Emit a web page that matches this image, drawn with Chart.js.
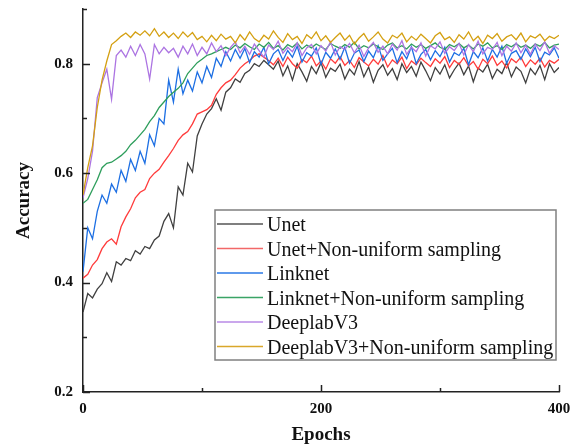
<!DOCTYPE html>
<html>
<head>
<meta charset="utf-8">
<script src="https://cdn.jsdelivr.net/npm/chart.js@4.4.1/dist/chart.umd.min.js"></script>
<style>
  html, body { margin: 0; padding: 0; background: #fff; }
  #wrap { width: 571px; height: 447px; position: relative; }
</style>
</head>
<body>
<div id="wrap"><canvas id="chart" width="571" height="447"></canvas></div>
<script>
// epochs sampled every 4
var epochs = Array.from({ length: 101 }, function(_, i) { return i * 4; });

var unet = [
	0.346,0.380,0.372,0.388,0.398,0.418,0.402,0.438,0.432,0.444,
	0.440,0.458,0.452,0.466,0.462,0.478,0.485,0.512,0.526,0.500,
	0.575,0.560,0.618,0.602,0.668,0.690,0.708,0.718,0.736,0.715,
	0.748,0.756,0.772,0.766,0.782,0.788,0.800,0.795,0.806,0.798,
	0.790,0.805,0.778,0.796,0.770,0.800,0.785,0.768,0.795,0.782,
	0.802,0.775,0.792,0.786,0.799,0.772,0.790,0.780,0.804,0.776,
	0.794,0.766,0.788,0.798,0.779,0.791,0.771,0.800,0.784,0.795,
	0.777,0.803,0.787,0.769,0.793,0.781,0.798,0.774,0.789,0.801,
	0.780,0.796,0.767,0.792,0.785,0.799,0.773,0.790,0.782,0.802,
	0.776,0.794,0.786,0.765,0.791,0.780,0.797,0.771,0.800,0.784,
	0.793
];

var unetNU = [
	0.408,0.415,0.432,0.442,0.462,0.474,0.480,0.470,0.502,0.520,
	0.535,0.555,0.565,0.570,0.590,0.600,0.607,0.620,0.632,0.645,
	0.660,0.670,0.676,0.690,0.708,0.712,0.716,0.724,0.744,0.756,
	0.765,0.770,0.780,0.792,0.800,0.806,0.814,0.818,0.812,
	0.806,0.798,0.810,0.795,0.812,0.800,0.792,0.808,0.802,0.814,
	0.796,0.805,0.790,0.809,0.801,0.813,0.797,0.806,0.793,0.811,
	0.803,0.796,0.808,0.799,0.815,0.794,0.807,0.800,0.812,0.791,
	0.805,0.798,0.810,0.802,0.795,0.809,0.801,0.813,0.793,0.806,
	0.799,0.811,0.796,0.804,0.790,0.808,0.800,0.814,0.797,0.805,
	0.792,0.809,0.802,0.812,0.795,0.807,0.799,0.810,0.794,0.806,
	0.801,0.808
];

var linknet = [
	0.420,0.500,0.480,0.530,0.560,0.545,0.580,0.565,0.605,0.585,
	0.625,0.605,0.640,0.618,0.670,0.650,0.700,0.690,0.770,0.730,
	0.790,0.745,0.770,0.750,0.785,0.765,0.795,0.775,0.810,0.795,
	0.822,0.805,0.826,
	0.810,0.828,0.802,0.822,0.812,0.830,0.800,0.818,0.826,0.806,
	0.824,0.812,0.832,0.803,0.820,0.814,0.829,0.799,0.821,0.810,
	0.827,0.808,0.830,0.801,0.819,0.825,0.804,0.823,0.811,0.833,
	0.806,0.818,0.828,0.802,0.822,0.809,0.831,0.800,0.817,0.826,
	0.807,0.824,0.813,0.830,0.803,0.820,0.815,0.828,0.798,0.822,
	0.811,0.829,0.805,0.826,0.812,0.832,0.801,0.819,0.824,0.808,
	0.827,0.813,0.830,0.804,0.821,0.816,0.829,0.810
];

var linknetNU = [
	0.545,0.552,0.570,0.588,0.610,0.618,0.620,0.626,0.632,0.640,
	0.652,0.660,0.670,0.680,0.694,0.705,0.720,0.730,0.740,0.748,
	0.755,0.765,0.782,0.792,0.802,0.808,0.815,0.818,0.822,0.826,
	0.830,
	0.826,0.834,0.829,0.837,0.831,0.826,0.836,0.830,0.839,0.828,
	0.833,0.825,0.835,0.830,0.838,0.827,0.834,0.829,0.836,0.831,
	0.826,0.837,0.832,0.828,0.835,0.830,0.839,0.827,0.833,0.829,
	0.836,0.831,0.826,0.834,0.838,0.829,0.833,0.827,0.836,0.830,
	0.835,0.828,0.833,0.838,0.830,0.826,0.835,0.831,0.837,0.829,
	0.834,0.827,0.836,0.832,0.838,0.829,0.833,0.826,0.835,0.831,
	0.837,0.830,0.834,0.828,0.836,0.832,0.839,0.829,0.834,0.836
];

var deeplab = [
	0.555,0.590,0.640,0.738,0.765,0.790,0.735,0.815,0.825,0.812,
	0.832,0.815,0.835,0.818,0.772,0.835,0.818,0.830,0.820,0.828,
	0.812,0.832,0.818,0.836,0.815,0.830,
	0.818,0.838,0.822,0.833,0.815,0.830,0.840,0.820,0.832,0.817,
	0.836,0.824,0.812,0.834,0.826,0.841,0.819,0.830,0.822,0.838,
	0.815,0.829,0.835,0.818,0.833,0.823,0.840,0.816,0.831,0.826,
	0.837,0.820,0.834,0.813,0.829,0.839,0.821,0.832,0.818,0.836,
	0.825,0.842,0.817,0.830,0.822,0.838,0.814,0.833,0.827,0.840,
	0.819,0.831,0.824,0.837,0.816,0.835,0.822,0.841,0.818,0.830,
	0.826,0.839,0.815,0.832,0.823,0.838,0.820,0.834,0.817,0.836,
	0.824,0.840,0.819,0.833,0.826
];

var deeplabNU = [
	0.560,0.610,0.650,0.720,0.770,0.805,0.835,0.842,0.850,0.856,
	0.848,0.858,0.852,0.860,0.851,0.864,0.850,0.858,0.848,0.856,
	0.846,0.858,0.849,0.857,0.844,0.850,0.840,0.852,0.842,0.854,
	0.845,
	0.850,0.838,0.853,0.843,0.858,0.846,0.840,0.852,0.845,0.860,
	0.848,0.839,0.855,0.844,0.850,0.837,0.853,0.846,0.858,0.842,
	0.851,0.839,0.848,0.856,0.843,0.852,0.836,0.847,0.855,0.841,
	0.849,0.858,0.845,0.838,0.852,0.847,0.856,0.840,0.850,0.843,
	0.854,0.846,0.838,0.851,0.857,0.844,0.849,0.839,0.853,0.845,
	0.858,0.842,0.850,0.837,0.852,0.846,0.855,0.841,0.849,0.853,
	0.844,0.856,0.840,0.851,0.847,0.854,0.842,0.850,0.846,0.852
];

var seriesNames = [
	'Unet',
	'Unet+Non-uniform sampling',
	'Linknet',
	'Linknet+Non-uniform sampling',
	'DeeplabV3',
	'DeeplabV3+Non-uniform sampling'
];
var seriesValues = [unet, unetNU, linknet, linknetNU, deeplab, deeplabNU];
var seriesColors = ['#404040', '#ff3b3b', '#1d6fe3', '#2e9e5c', '#ac74e2', '#d4a012'];
var legendColors = ['#555555', '#f26868', '#2a78e6', '#3aa466', '#b88ae6', '#d9a72a'];

var yTicks = [0.2, 0.4, 0.6, 0.8];
var xTicks = [0, 200, 400];

var datasets = seriesValues.map(function(vals, k) {
	return {
		label: seriesNames[k],
		data: vals.map(function(v, i) { return { x: epochs[i], y: v }; }),
		borderColor: seriesColors[k],
		borderWidth: 1.3,
		pointRadius: 0,
		tension: 0,
		fill: false,
		order: seriesValues.length - k
	};
});

// ticks pointing inward, major and minor
var innerTicks = {
	id: 'innerTicks',
	afterDraw: function(chart) {
		var ctx = chart.ctx;
		var xs = chart.scales.x, ys = chart.scales.y;
		var a = chart.chartArea;
		ctx.save();
		ctx.strokeStyle = '#222';
		ctx.lineWidth = 1.5;
		ctx.beginPath();
		for (var v = 2; v <= 9; v++) {
			var py = Math.round(ys.getPixelForValue(v / 10)) + 0.5;
			var len = (v % 2 === 0) ? 7 : 4;
			ctx.moveTo(a.left, py);
			ctx.lineTo(a.left + len, py);
		}
		for (var e = 0; e <= 400; e += 100) {
			var px = Math.round(xs.getPixelForValue(e)) + 0.5;
			var l2 = (e % 200 === 0) ? 7 : 4;
			ctx.moveTo(px, a.bottom);
			ctx.lineTo(px, a.bottom - l2);
		}
		ctx.stroke();
		ctx.restore();
	}
};

// framed legend inside plot
var boxLegend = {
	id: 'boxLegend',
	afterDraw: function(chart) {
		var ctx = chart.ctx;
		var bx = 215, by = 210, bw = 341, bh = 150;
		ctx.save();
		ctx.fillStyle = '#fff';
		ctx.fillRect(bx, by, bw, bh);
		ctx.strokeStyle = '#808080';
		ctx.lineWidth = 1.5;
		ctx.strokeRect(bx, by, bw, bh);
		ctx.font = '20px "Liberation Serif", "Times New Roman", serif';
		ctx.textBaseline = 'alphabetic';
		chart.data.datasets.forEach(function(ds, i) {
			var ry = 224 + i * 24.5;
			ctx.strokeStyle = legendColors[i];
			ctx.lineWidth = 1.5;
			ctx.beginPath();
			ctx.moveTo(217, ry);
			ctx.lineTo(263, ry);
			ctx.stroke();
			ctx.fillStyle = '#111';
			ctx.fillText(ds.label, 267, ry + 7);
		});
		ctx.restore();
	}
};

var tickFont = { family: '"Liberation Serif", "Times New Roman", serif', size: 15, weight: 'bold' };
var titleFont = { family: '"Liberation Serif", "Times New Roman", serif', size: 19, weight: 'bold' };

new Chart(document.getElementById('chart').getContext('2d'), {
	type: 'line',
	data: { datasets: datasets },
	options: {
		responsive: false,
		animation: false,
		layout: { padding: { left: 0, top: 9, right: 12, bottom: 0 } },
		plugins: { legend: { display: false }, tooltip: { enabled: false } },
		scales: {
			x: {
				type: 'linear',
				min: 0,
				max: 400,
				afterFit: function(s) { s.height = 55; s.paddingLeft = 0; s.paddingRight = 0; },
				afterBuildTicks: function(s) { s.ticks = xTicks.map(function(v) { return { value: v }; }); },
				ticks: { font: tickFont, color: '#111', padding: 8, maxRotation: 0 },
				grid: { display: false, drawTicks: false },
				border: { display: true, color: '#222', width: 1.5 },
				title: { display: true, text: 'Epochs', font: titleFont, color: '#111', padding: { top: 0, bottom: 1 } }
			},
			y: {
				min: 0.2,
				max: 0.9,
				afterFit: function(s) { s.width = 83; s.paddingTop = 0; s.paddingBottom = 0; },
				afterBuildTicks: function(s) { s.ticks = yTicks.map(function(v) { return { value: v }; }); },
				ticks: {
					font: tickFont,
					color: '#111',
					padding: 10,
					callback: function(v) { return v.toFixed(1); }
				},
				grid: { display: false, drawTicks: false },
				border: { display: true, color: '#222', width: 1.5 },
				title: { display: true, text: 'Accuracy', font: titleFont, color: '#111', padding: { top: 13, bottom: 0 } }
			}
		}
	},
	plugins: [innerTicks, boxLegend]
});
</script>
</body>
</html>
